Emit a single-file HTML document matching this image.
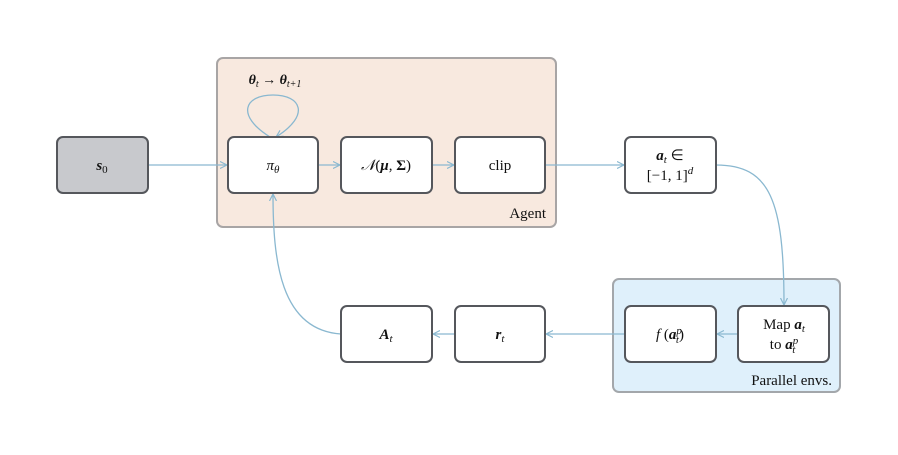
<!DOCTYPE html>
<html><head><style>body{margin:0;background:#fff}</style></head><body>
<svg width="898" height="450" xmlns="http://www.w3.org/2000/svg" font-family="Liberation Serif, serif">
<defs><marker id="a" markerWidth="8" markerHeight="8" refX="7" refY="4" orient="auto" markerUnits="userSpaceOnUse"><path d="M0,0.5 L7,4 L0,7.5" fill="none" stroke="#8ab8d0" stroke-width="1.2"/></marker></defs>
<rect x="217" y="58" width="339" height="169" rx="6" fill="#f8e9df" stroke="#a8a5a5" stroke-width="2"/>
<rect x="613" y="279" width="227" height="113" rx="6" fill="#dff0fb" stroke="#a3a7ab" stroke-width="2"/>
<g stroke="#8ab8d0" stroke-width="1.3" fill="none" marker-end="url(#a)">
<path d="M148,165 H227"/><path d="M318,165 H340"/><path d="M432,165 H454"/><path d="M545,165 H624"/>
<path d="M716,165 C770,165 784,200 784,305"/>
<path d="M738,334 H717"/><path d="M625,334 H546"/><path d="M455,334 H433"/>
<path d="M341,334 C280,330 273,260 273,194"/>
<path d="M270,137 C235,115 245,95 273,95 C301,95 311,115 276,137"/>
</g>
<g fill="#fff" stroke="#55575c" stroke-width="2">
<rect x="57" y="137" width="91" height="56" rx="6" fill="#c8c9cd"/>
<rect x="228" y="137" width="90" height="56" rx="6"/>
<rect x="341" y="137" width="91" height="56" rx="6"/>
<rect x="455" y="137" width="90" height="56" rx="6"/>
<rect x="625" y="137" width="91" height="56" rx="6"/>
<rect x="625" y="306" width="91" height="56" rx="6"/>
<rect x="738" y="306" width="91" height="56" rx="6"/>
<rect x="455" y="306" width="90" height="56" rx="6"/>
<rect x="341" y="306" width="91" height="56" rx="6"/>
</g>
<g font-size="15" text-anchor="middle" fill="#111">
<text x="102" y="170" font-weight="bold" font-style="italic">s<tspan font-size="11" dy="3" font-weight="normal" font-style="normal">0</tspan></text>
<text x="273" y="170" font-style="italic">π<tspan font-size="11" dy="3">θ</tspan></text>
<text x="386" y="170"><tspan font-style="italic">𝒩</tspan>(<tspan font-weight="bold" font-style="italic">μ</tspan>, <tspan font-weight="bold">Σ</tspan>)</text>
<text x="500" y="170">clip</text>
<text x="670" y="160"><tspan font-weight="bold" font-style="italic">a</tspan><tspan font-size="11" font-style="italic" dy="3">t</tspan><tspan dy="-3"> ∈</tspan></text>
<text x="670" y="180">[−1, 1]<tspan font-size="11" font-style="italic" dy="-6">d</tspan></text>
<text x="670" y="339"><tspan font-style="italic">f</tspan> (<tspan font-weight="bold" font-style="italic">a</tspan><tspan font-size="11" font-style="italic" dy="-5">p</tspan><tspan font-size="11" font-style="italic" dx="-6" dy="9">t</tspan><tspan dy="-4">)</tspan></text>
<text x="784" y="329">Map <tspan font-weight="bold" font-style="italic">a</tspan><tspan font-size="11" font-style="italic" dy="3">t</tspan></text>
<text x="784" y="349">to <tspan font-weight="bold" font-style="italic">a</tspan><tspan font-size="11" font-style="italic" dy="-5">p</tspan><tspan font-size="11" font-style="italic" dx="-6" dy="9">t</tspan></text>
<text x="500" y="339" font-weight="bold" font-style="italic">r<tspan font-size="11" dy="3" font-weight="normal">t</tspan></text>
<text x="386" y="339" font-weight="bold" font-style="italic">A<tspan font-size="11" dy="3" font-weight="normal">t</tspan></text>
<text x="275" y="84" font-size="14"><tspan font-weight="bold" font-style="italic">θ</tspan><tspan font-size="10" font-style="italic" dy="3">t</tspan><tspan dy="-3"> → </tspan><tspan font-weight="bold" font-style="italic">θ</tspan><tspan font-size="10" font-style="italic" dy="3">t+1</tspan></text>
<text x="546" y="218" text-anchor="end">Agent</text>
<text x="832" y="385" text-anchor="end">Parallel envs.</text>
</g>
</svg>
</body></html>
